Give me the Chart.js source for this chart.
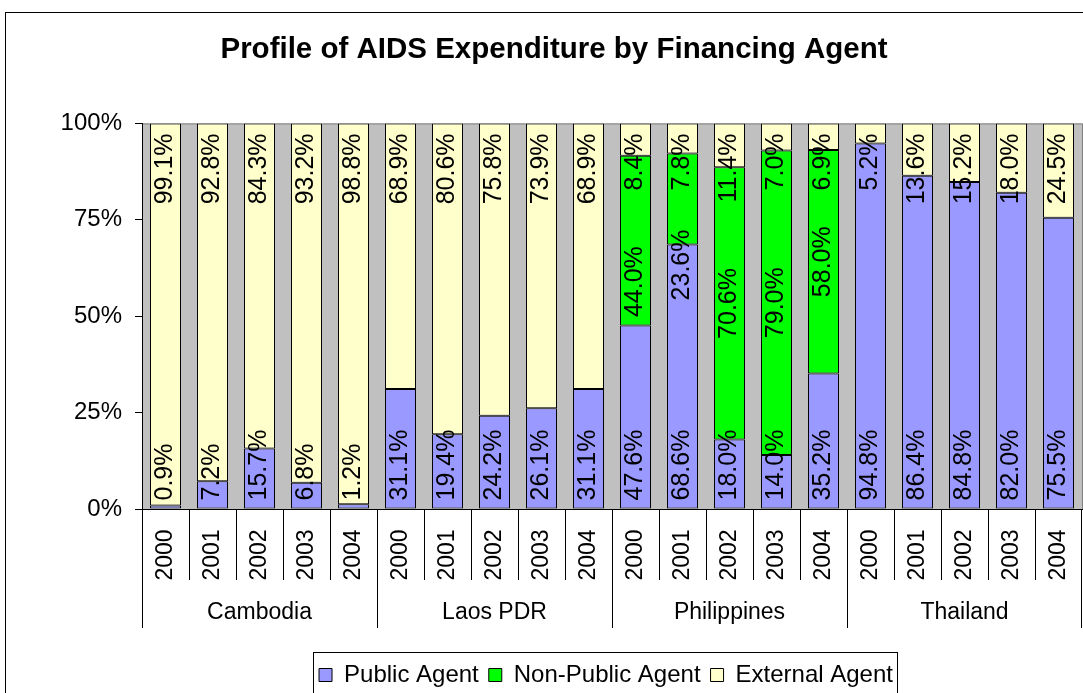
<!DOCTYPE html>
<html>
<head>
<meta charset="utf-8">
<script src="https://cdn.jsdelivr.net/npm/chart.js@4"></script>
<style>
  html, body { margin: 0; padding: 0; background: #fff; }
</style>
</head>
<body>
<canvas id="myChart" width="1083" height="693"></canvas>
<script>
var countries = ['Cambodia', 'Laos PDR', 'Philippines', 'Thailand'];
var years = ['2000', '2001', '2002', '2003', '2004'];
var publicAgent = [0.9, 7.2, 15.7, 6.8, 1.2, 31.1, 19.4, 24.2, 26.1, 31.1, 47.6, 68.6, 18.0, 14.0, 35.2, 94.8, 86.4, 84.8, 82.0, 75.5];
var nonPublicAgent = [0, 0, 0, 0, 0, 0, 0, 0, 0, 0, 44.0, 23.6, 70.6, 79.0, 58.0, 0, 0, 0, 0, 0];
var externalAgent = [99.1, 92.8, 84.3, 93.2, 98.8, 68.9, 80.6, 75.8, 73.9, 68.9, 8.4, 7.8, 11.4, 7.0, 6.9, 5.2, 13.6, 15.2, 18.0, 24.5];
var yTickLabels = ['0%', '25%', '50%', '75%', '100%'];

var FONT = "'Liberation Sans', Arial, sans-serif";
var series = [publicAgent, nonPublicAgent, externalAgent];

var labels = [];
countries.forEach(function (c) { years.forEach(function (y) { labels.push(y); }); });

// 100% stacked: scale each column to its total
var totals = publicAgent.map(function (v, j) { return v + nonPublicAgent[j] + externalAgent[j]; });
function share(arr) { return arr.map(function (v, j) { return v / totals[j] * 100; }); }

// a couple of non-public labels were dragged down in the original sheet
var labelNudge = { 10: 41, 11: 66 };

var sheetPlugin = {
  id: 'sheet',
  afterLayout: function (chart) {
    // legend and title sit right of centre in the original
    chart.legend.left += 65;
    chart.legend.right += 65;
    chart.titleBlock.left += 13;
    chart.titleBlock.right += 13;
  },
  beforeDraw: function (chart) {
    var c = chart.ctx, a = chart.chartArea;
    c.save();
    c.fillStyle = '#fff';
    c.fillRect(0, 0, chart.width, chart.height);
    c.strokeStyle = '#000';
    c.lineWidth = 1;
    c.strokeRect(5.5, 12.5, chart.width + 20, chart.height + 20);
    c.fillStyle = '#c0c0c0';
    c.fillRect(a.left, a.top, a.right - a.left, a.bottom - a.top);
    c.strokeStyle = '#808080';
    c.strokeRect(a.left + 0.5, a.top + 0.5, a.right - a.left, a.bottom - a.top);
    c.restore();
  },
  afterDatasetsDraw: function (chart) {
    var c = chart.ctx;
    c.save();
    c.font = '25px ' + FONT;
    c.fillStyle = '#000';
    c.textBaseline = 'middle';
    series.forEach(function (arr, i) {
      var meta = chart.getDatasetMeta(i);
      meta.data.forEach(function (bar, j) {
        var v = arr[j];
        if (!v) return;
        var y, align;
        if (i === 0) { y = bar.base - 8; align = 'left'; }
        else if (i === 2) { y = bar.y + 10; align = 'right'; }
        else { y = (bar.y + bar.base) / 2 + (labelNudge[j] || 0); align = 'center'; }
        c.save();
        c.translate(bar.x, y);
        c.rotate(-Math.PI / 2);
        c.textAlign = align;
        c.fillText(v.toFixed(1) + '%', 0, 0);
        c.restore();
      });
    });
    c.restore();
  },
  afterDraw: function (chart) {
    var c = chart.ctx, a = chart.chartArea, xs = chart.scales.x;
    var half = (xs.getPixelForValue(1) - xs.getPixelForValue(0)) / 2;
    c.save();
    c.strokeStyle = '#000';
    c.lineWidth = 1;
    c.fillStyle = '#000';
    c.textBaseline = 'middle';
    for (var j = 0; j <= labels.length; j++) {
      var edge = Math.round(xs.getPixelForValue(j) - half) + 0.5;
      if (j === labels.length) edge = Math.round(xs.getPixelForValue(j - 1) + half) - 0.5;
      var isGroup = j % years.length === 0;
      c.beginPath();
      c.moveTo(edge, a.bottom);
      c.lineTo(edge, a.bottom + (isGroup ? 119 : 71));
      c.stroke();
      if (j < labels.length) {
        c.save();
        c.font = '23px ' + FONT;
        c.translate(xs.getPixelForValue(j), a.bottom + 46);
        c.rotate(-Math.PI / 2);
        c.textAlign = 'center';
        c.fillText(labels[j], 0, 0);
        c.restore();
      }
    }
    c.font = '23px ' + FONT;
    c.textAlign = 'center';
    countries.forEach(function (name, g) {
      var first = xs.getPixelForValue(g * years.length);
      var last = xs.getPixelForValue(g * years.length + years.length - 1);
      c.fillText(name, (first + last) / 2, a.bottom + 104);
    });
    // legend frame
    var boxes = chart.legend.legendHitBoxes;
    var l = Math.min.apply(null, boxes.map(function (b) { return b.left; }));
    var r = Math.max.apply(null, boxes.map(function (b) { return b.left + b.width; }));
    c.strokeRect(Math.round(l) - 5.5, 652.5, Math.round(r - l) + 10, 60);
    c.restore();
  }
};

var ctx = document.getElementById('myChart').getContext('2d');
var myChart = new Chart(ctx, {
  type: 'bar',
  data: {
    labels: labels,
    datasets: [{
      label: 'Public Agent',
      data: share(publicAgent),
      backgroundColor: '#9999ff'
    }, {
      label: 'Non-Public Agent',
      data: share(nonPublicAgent),
      backgroundColor: '#00ff00'
    }, {
      label: 'External Agent',
      data: share(externalAgent),
      backgroundColor: '#ffffcc'
    }]
  },
  options: {
    responsive: false,
    animation: false,
    layout: { padding: { left: 0, right: 1, top: 0, bottom: -4 } },
    datasets: {
      bar: {
        borderColor: '#000',
        borderWidth: 1,
        borderSkipped: false,
        barPercentage: 0.66,
        categoryPercentage: 1
      }
    },
    scales: {
      x: {
        stacked: true,
        grid: { display: false },
        border: { display: true, color: '#000' },
        ticks: { display: false },
        afterFit: function (scale) { scale.height = 144; }
      },
      y: {
        stacked: true,
        min: 0,
        max: 100,
        border: { display: true, color: '#000' },
        grid: { drawOnChartArea: false, drawTicks: true, tickLength: 7, color: '#000' },
        ticks: {
          stepSize: 25,
          padding: 13,
          color: '#000',
          font: { family: FONT, size: 24 },
          callback: function (value) { return yTickLabels[value / 25]; }
        },
        afterFit: function (scale) { scale.width = 142; }
      }
    },
    plugins: {
      title: {
        display: true,
        text: 'Profile of AIDS Expenditure by Financing Agent',
        color: '#000',
        font: { family: FONT, size: 29.5, weight: 'bold' },
        padding: { top: 32, bottom: 56 }
      },
      legend: {
        position: 'bottom',
        labels: {
          color: '#000',
          boxWidth: 13,
          boxHeight: 13,
          padding: 10,
          font: { family: FONT, size: 24 }
        }
      },
      tooltip: { enabled: false }
    }
  },
  plugins: [sheetPlugin]
});
</script>
</body>
</html>
